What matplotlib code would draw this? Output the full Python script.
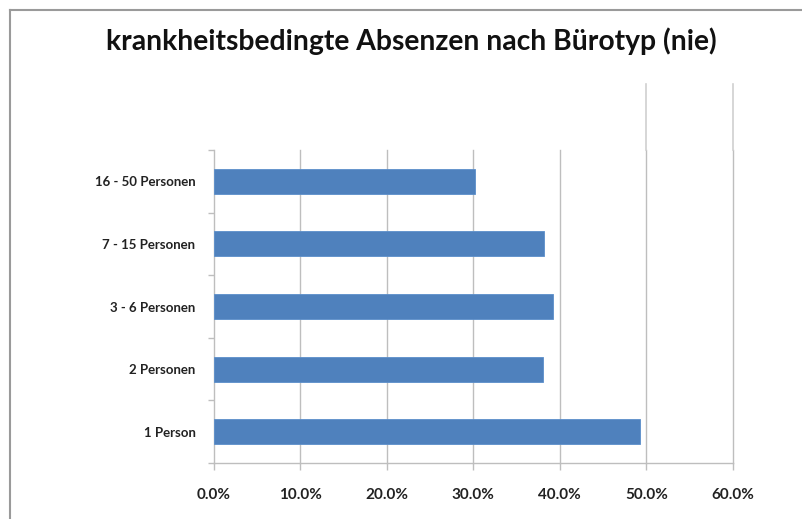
import matplotlib
matplotlib.use("Agg")
import matplotlib.pyplot as plt
from matplotlib.lines import Line2D
import matplotlib.transforms as mtransforms

categories = ["1 Person", "2 Personen", "3 - 6 Personen", "7 - 15 Personen", "16 - 50 Personen"]
values = [49.3, 38.1, 39.2, 38.2, 30.2]
xticks = [0, 10, 20, 30, 40, 50, 60]
xticklabels = ["0.0%", "10.0%", "20.0%", "30.0%", "40.0%", "50.0%", "60.0%"]
title = "krankheitsbedingte Absenzen nach Bürotyp (nie)"

plt.rcParams['font.family'] = ['Lato', 'DejaVu Sans']

W, H = 802, 519
fig = plt.figure(figsize=(W / 100, H / 100), dpi=100)
fig.patch.set_facecolor("white")

left, right, top, bottom = 213.5, 733, 150, 463
ax = fig.add_axes([left / W, 1 - bottom / H, (right - left) / W, (bottom - top) / H])

grid_c = "#BEBEBE"
ypos = list(range(len(categories)))
ax.barh(ypos, values, height=0.4, color="#4F81BD", edgecolor="#5B8FCB", linewidth=0.6, zorder=3)

ax.set_xlim(0, 60)
ax.set_ylim(-0.5, len(categories) - 0.5)
ax.set_xticks(xticks)
ax.set_xticklabels(xticklabels, fontsize=11, fontweight="bold", color="#222222")
ax.set_yticks(ypos)
ax.set_yticklabels(categories, fontsize=9.5, fontweight="bold", color="#222222")
ax.tick_params(axis="y", length=0, pad=13)
ax.tick_params(axis="x", length=5, color=grid_c, pad=13, width=1)

# category boundary ticks on y axis
ax.set_yticks([i - 0.5 for i in range(len(categories) + 1)], minor=True)
ax.tick_params(axis="y", which="minor", length=4, color=grid_c, width=1)

for xv in xticks[1:]:
    ax.axvline(xv, color=grid_c, linewidth=1, zorder=1, clip_on=False)

# gridline extension above the plot area (as in reference image)
trans = mtransforms.blended_transform_factory(ax.transData, ax.transAxes)
for xv in xticks[-2:]:
    ax.add_line(Line2D([xv, xv], [1.0, 1.21], transform=trans, color="#D0D0D0",
                       linewidth=1.2, clip_on=False, zorder=1))

for s in ["top", "right"]:
    ax.spines[s].set_visible(False)
for s in ["left", "bottom"]:
    ax.spines[s].set_color(grid_c)
    ax.spines[s].set_linewidth(1)

fig.text(411 / W, 1 - 41 / H, title, ha="center", va="center", fontsize=20.3,
         fontweight="bold", color="#111111")

# outer chart frame (left and top edges visible)
fig.add_artist(Line2D([10 / W, 10 / W], [0, 1 - 10 / H], transform=fig.transFigure,
                      color="#9A9A9A", linewidth=1.5))
fig.add_artist(Line2D([10 / W, 1], [1 - 10 / H, 1 - 10 / H], transform=fig.transFigure,
                      color="#9A9A9A", linewidth=1.5))

fig.savefig("out.png", dpi=100, facecolor="white")
